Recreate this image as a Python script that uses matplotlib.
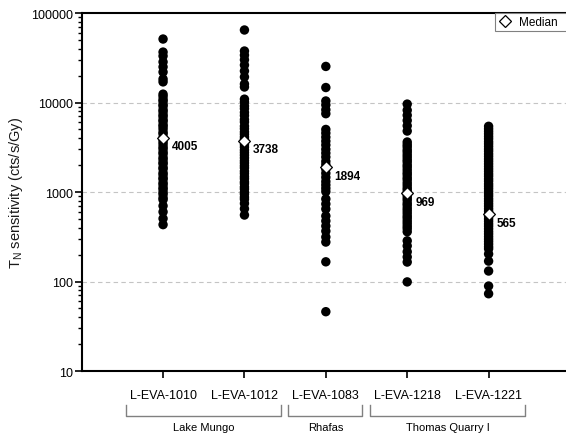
import numpy as np
import matplotlib
matplotlib.use('Agg')
import matplotlib.pyplot as plt
from matplotlib.lines import Line2D
from matplotlib.transforms import blended_transform_factory

plt.rcParams['font.family'] = ['Liberation Sans', 'DejaVu Sans']
plt.rcParams['mathtext.fontset'] = 'custom'
plt.rcParams['mathtext.rm'] = 'Liberation Sans'

samples = ['L-EVA-1010', 'L-EVA-1012', 'L-EVA-1083', 'L-EVA-1218', 'L-EVA-1221']
groups = ['Lake Mungo', 'Rhafas', 'Thomas Quarry I']
group_members = [[0, 1], [2], [3, 4]]
medians = [4005, 3738, 1894, 969, 565]

# T_N sensitivity per aliquot (cts/s/Gy)
sens_1010 = [51200, 36600, 33100, 28400, 25000, 21900, 18300, 17000,
             12400, 11700, 10800, 10300, 9500, 9100, 8300, 7900, 7300, 6950,
             6400, 6150, 5650, 5400, 5050, 4650, 4450, 4050, 3880, 3640,
             3420, 3180, 3020, 2790, 2660, 2430, 2310, 2140, 2060, 1880,
             1810, 1640, 1560, 1440, 1390, 1270, 1210, 1120, 1070, 990,
             940, 860, 820, 700, 600, 505, 432]
sens_1012 = [64600, 37600, 33800, 30000, 26200, 22500, 19300, 16100, 14900,
             10900, 10100, 9150, 8550, 7750, 7150, 6450, 6050, 5450, 5100,
             4700, 4420, 4120, 3880, 3620, 3380, 3170, 2940, 2760, 2580,
             2410, 2240, 2110, 1970, 1860, 1710, 1610, 1490, 1410, 1300,
             1240, 1140, 1080, 995, 945, 875, 830, 745, 650, 553]
sens_1083 = [25300, 14700, 10400, 9400, 8300, 7500,
             5000, 4550, 4100, 3700, 3350, 3000, 2720, 2460, 2200, 2020,
             1800, 1620, 1460, 1310, 1200, 1100, 1010,
             836, 735, 646, 540, 475, 417, 366, 314, 276, 166, 46]
sens_1218 = [9600, 8200, 7200, 6300, 5500, 4800,
             3620, 3380, 3190, 2960, 2800, 2610, 2450, 2290, 2170, 2010,
             1900, 1770, 1650, 1560, 1450, 1370, 1270, 1190, 1110, 1050,
             980, 920, 860, 810, 750, 710, 660, 620, 580, 540, 510, 475,
             445, 415, 390, 360, 285, 250, 215, 188, 165, 99]
sens_1221 = [5420, 5080, 4760, 4470, 4180, 3930, 3660, 3450, 3230, 3020,
             2850, 2660, 2500, 2340, 2200, 2060, 1930, 1810, 1700, 1590,
             1500, 1400, 1320, 1230, 1160, 1090, 1020, 955, 900, 840, 790,
             740, 695, 650, 610, 570, 535, 500, 470, 440, 415, 388, 362,
             340, 318, 298, 280, 262, 245, 232, 203, 169, 131, 89, 73]
sensitivity = [sens_1010, sens_1012, sens_1083, sens_1218, sens_1221]

fig = plt.figure(figsize=(5.66, 4.35), dpi=100)
# the original graph runs past the right edge of the image
ax = fig.add_axes([0.1443, 0.1448, 0.88, 0.823])

for i, vals in enumerate(sensitivity):
    xpos = np.full(len(vals), i + 1)
    ax.scatter(xpos, vals, s=46, color='black', edgecolors='none', zorder=3)

xm = np.arange(1, len(samples) + 1)
ax.scatter(xm, medians, marker='D', s=36, facecolor='white', edgecolor='black',
           linewidth=0.9, zorder=4)
for x, m in zip(xm, medians):
    ax.annotate(str(m), (x, m), xytext=(6, -6), textcoords='offset points',
                ha='left', va='center', fontsize=8.5, fontweight='bold')

ax.set_yscale('log')
ax.set_ylim(10, 100000)
ax.set_xlim(0, 6.12)
ax.set_xticks(xm)
ax.set_xticklabels(samples, fontsize=9)
ax.set_yticks([10, 100, 1000, 10000, 100000])
ax.set_yticklabels(['10', '100', '1000', '10000', '100000'], fontsize=9)
ax.tick_params(axis='both', which='major', direction='out', length=5, width=1.2)
ax.tick_params(axis='y', which='minor', direction='out', length=3, width=1)
ax.tick_params(axis='x', pad=8)
ax.tick_params(axis='y', pad=1.5)
for sp in ax.spines.values():
    sp.set_linewidth(1.5)

for gy in [100, 1000, 10000]:
    ax.axhline(gy, color='#c4c4c4', lw=0.8, ls=(0, (4, 3)), zorder=1)

ax.set_ylabel(r'$\mathregular{T_N}$ sensitivity (cts/s/Gy)', fontsize=10.5,
              color='#1a1a1a', labelpad=4)

# group brackets under the sample labels
trans = blended_transform_factory(ax.transData, ax.transAxes)
for name, members in zip(groups, group_members):
    x0 = members[0] + 1 - 0.46
    x1 = members[-1] + 1 + 0.45
    ax.plot([x0, x0, x1, x1], [-0.095, -0.126, -0.126, -0.095], color='#808080',
            lw=1, transform=trans, clip_on=False)
    ax.text((x0 + x1) / 2, -0.157, name, transform=trans, ha='center',
            va='center', fontsize=8)

handle = Line2D([], [], marker='D', ls='none', markersize=6.5,
                markerfacecolor='white', markeredgecolor='black', markeredgewidth=0.9)
leg = fig.legend([handle], ['Median'], loc='upper left', mode='expand',
                 bbox_to_anchor=(495 / 566, 1 - 30 / 435, 90 / 566, 16 / 435),
                 borderaxespad=0, fontsize=8.5, frameon=True, fancybox=False,
                 framealpha=1, edgecolor='#808080', handlelength=1.2,
                 handletextpad=0.6, borderpad=0.25, labelspacing=0.2)
leg.get_frame().set_linewidth(0.8)

fig.savefig('out.png', dpi=100)
